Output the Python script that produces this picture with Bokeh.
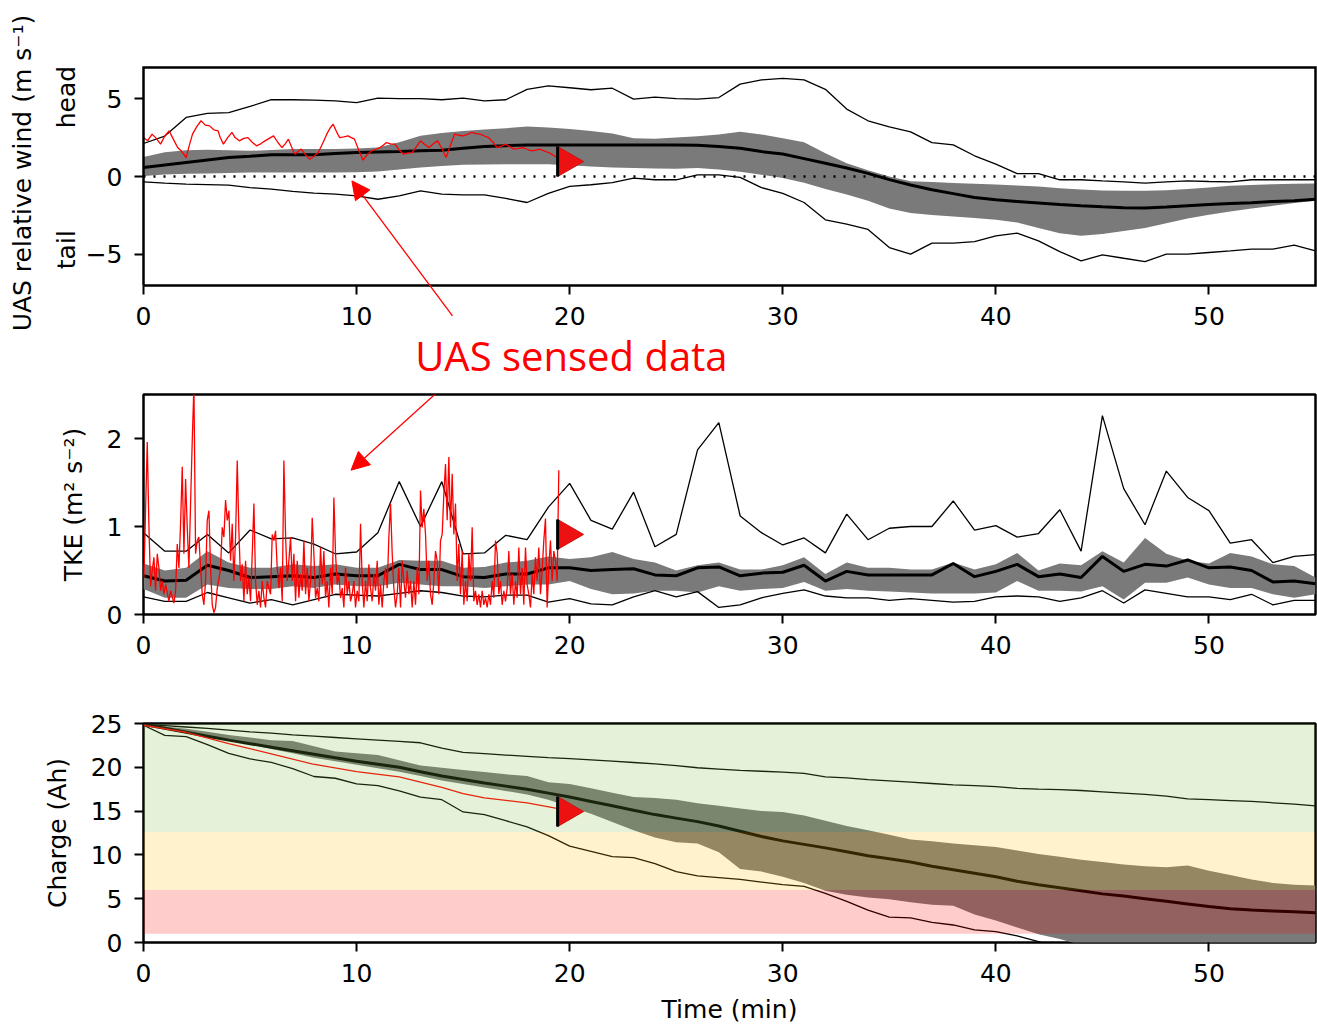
import numpy as np
from bokeh.plotting import figure
from bokeh.layouts import column
from bokeh.models import Label, Arrow, NormalHead, Range1d, FixedTicker
from bokeh.embed import file_html
from bokeh.resources import INLINE

# ---------------- data ----------------
minutes = list(range(56))

# Panel 1: UAS relative wind (m/s)
wind_max = [2.12, 2.6, 3.79, 4.05, 4.1, 4.5, 4.93, 4.93, 4.9, 4.86, 4.75, 5.03, 5.0, 5.0, 4.93, 5.03,
            4.86, 4.93, 5.6, 5.82, 5.7, 5.57, 5.67, 4.97, 5.1, 5.0, 4.97, 5.07, 5.93, 6.2, 6.3, 6.2,
            5.6, 4.33, 3.58, 3.19, 2.87, 2.18, 2.03, 1.33, 0.79, 0.19, 0.19, -0.21, -0.21, -0.28,
            -0.34, -0.43, -0.34, -0.28, -0.32, -0.34, -0.21, -0.21, -0.21, -0.21]
wind_min = [-0.34, -0.43, -0.49, -0.52, -0.56, -0.71, -0.81, -0.96, -1.07, -1.13, -1.24, -1.46,
            -1.24, -0.92, -1.13, -1.18, -1.18, -1.41, -1.67, -1.09, -0.64, -0.53, -0.39, -0.11,
            -0.21, -0.21, 0.1, 0.1, -0.06, -0.71, -1.09, -1.67, -2.78, -3.06, -3.4, -4.56, -4.99,
            -4.28, -4.28, -4.18, -3.81, -3.64, -4.13, -4.82, -5.42, -5.03, -5.25, -5.46, -4.99,
            -4.99, -4.88, -4.78, -4.67, -4.67, -4.41, -4.78]
wind_med = [0.58, 0.74, 0.9, 1.06, 1.22, 1.3, 1.39, 1.39, 1.4, 1.47, 1.54, 1.57, 1.6, 1.65, 1.69,
            1.81, 1.93, 1.98, 2.03, 2.03, 2.03, 2.03, 2.03, 2.03, 2.03, 2.03, 2.0, 1.93, 1.82, 1.6,
            1.45, 1.15, 0.85, 0.55, 0.2, -0.2, -0.55, -0.85, -1.1, -1.35, -1.5, -1.6, -1.7, -1.8,
            -1.88, -1.95, -2.0, -2.03, -1.96, -1.88, -1.8, -1.73, -1.68, -1.6, -1.55, -1.46]
wind_q75 = [1.26, 1.55, 1.68, 1.71, 1.68, 1.65, 1.7, 1.76, 1.76, 1.76, 1.8, 1.86, 2.2, 2.61, 2.8,
            2.93, 3.02, 3.1, 3.21, 3.15, 3.05, 2.93, 2.76, 2.46, 2.42, 2.5, 2.58, 2.7, 2.87, 2.7,
            2.45, 2.2, 1.5, 0.85, 0.4, 0.0, -0.3, -0.35, -0.42, -0.47, -0.52, -0.57, -0.65, -0.75,
            -0.83, -0.9, -0.92, -0.92, -0.88, -0.8, -0.7, -0.6, -0.54, -0.5, -0.47, -0.45]
wind_q25 = [0.04, 0.13, 0.17, 0.19, 0.22, 0.26, 0.26, 0.26, 0.26, 0.26, 0.28, 0.32, 0.45, 0.58,
            0.68, 0.75, 0.77, 0.79, 0.79, 0.79, 0.72, 0.64, 0.58, 0.54, 0.52, 0.49, 0.55, 0.45,
            0.3, 0.12, -0.1, -0.4, -0.8, -1.15, -1.55, -2.05, -2.35, -2.47, -2.57, -2.67, -2.78,
            -2.95, -3.3, -3.65, -3.8, -3.7, -3.5, -3.3, -3.0, -2.7, -2.45, -2.25, -2.05, -1.88,
            -1.7, -1.56]
wind_uas_t = [0, 0.2, 0.4, 0.6, 0.8, 1.0, 1.2, 1.4, 1.6, 1.8, 2.0, 2.15, 2.3, 2.5, 2.7, 2.9,
              3.1, 3.3, 3.5, 3.6, 3.75, 3.95, 4.15, 4.3, 4.5, 4.7, 4.9, 5.1, 5.3, 5.5, 5.7, 5.9,
              6.1, 6.3, 6.5, 6.65, 6.8, 6.95, 7.1, 7.25, 7.4, 7.6, 7.8, 8.0, 8.2, 8.4, 8.6, 8.75,
              8.9, 9.05, 9.2, 9.4, 9.6, 9.75, 9.9, 10.1, 10.3, 10.5, 10.7, 10.9, 11.1, 11.25,
              11.4, 11.6, 11.8, 12.0, 12.2, 12.4, 12.6, 12.8, 13.0, 13.2, 13.4, 13.6, 13.8, 14.0,
              14.2, 14.4, 14.6, 14.8, 15.0, 15.2, 15.4, 15.6, 15.8, 16.0, 16.2, 16.4, 16.6, 16.8,
              17.0, 17.2, 17.4, 17.6, 17.8, 18.0, 18.2, 18.4, 18.6, 18.8, 19.0, 19.2, 19.4]
wind_uas = [2.5, 2.3, 2.72, 2.45, 2.08, 2.6, 2.93, 2.4, 1.86, 1.6, 1.22, 2.0, 2.72, 3.2, 3.58,
            3.3, 3.25, 3.0, 2.93, 2.5, 2.08, 2.5, 2.83, 2.5, 2.29, 2.45, 2.5, 2.2, 1.97, 2.1,
            2.29, 2.45, 2.61, 2.2, 1.86, 2.1, 2.4, 1.9, 1.43, 1.6, 1.76, 1.4, 1.11, 1.3, 1.54,
            2.1, 2.72, 3.1, 3.36, 2.9, 2.5, 2.55, 2.61, 2.5, 2.4, 1.7, 1.05, 1.4, 1.65, 1.75, 1.86,
            2.0, 2.18, 2.1, 2.08, 1.7, 1.43, 1.5, 1.54, 1.9, 2.29, 2.05, 1.86, 2.1, 2.29, 1.8,
            1.22, 2.0, 2.72, 2.65, 2.61, 2.7, 2.83, 2.75, 2.72, 2.6, 2.5, 2.2, 1.86, 1.95, 2.08,
            1.9, 1.76, 1.8, 1.86, 1.75, 1.65, 1.7, 1.76, 1.65, 1.54, 1.4, 1.22]

# Panel 2: TKE (m2/s2)
tke_max = [0.93, 0.72, 0.72, 0.91, 0.70, 0.96, 0.86, 0.87, 0.80, 0.69, 0.71, 0.93, 1.51, 1.0, 1.51,
           0.69, 0.70, 0.90, 0.85, 1.22, 1.49, 1.07, 0.97, 1.39, 0.77, 0.91, 1.87, 2.18, 1.12, 0.93,
           0.79, 0.87, 0.70, 1.14, 0.85, 0.98, 1.0, 1.0, 1.29, 0.96, 1.01, 0.88, 0.92, 1.19, 0.72,
           2.26, 1.43, 1.02, 1.63, 1.33, 1.18, 0.81, 0.85, 0.59, 0.66, 0.68]
tke_min = [0.2, 0.15, 0.15, 0.25, 0.19, 0.13, 0.17, 0.11, 0.17, 0.23, 0.22, 0.21, 0.24, 0.27, 0.25,
           0.21, 0.2, 0.22, 0.22, 0.14, 0.18, 0.12, 0.11, 0.2, 0.27, 0.2, 0.26, 0.08, 0.11, 0.19,
           0.24, 0.28, 0.21, 0.19, 0.19, 0.16, 0.18, 0.16, 0.14, 0.15, 0.2, 0.21, 0.2, 0.15, 0.19,
           0.27, 0.13, 0.28, 0.24, 0.2, 0.2, 0.17, 0.23, 0.11, 0.16, 0.16]
tke_med = [0.44, 0.38, 0.39, 0.56, 0.5, 0.42, 0.43, 0.44, 0.42, 0.46, 0.44, 0.44, 0.57, 0.51, 0.51,
           0.43, 0.42, 0.46, 0.46, 0.53, 0.53, 0.5, 0.51, 0.52, 0.45, 0.44, 0.53, 0.54, 0.44, 0.47,
           0.48, 0.56, 0.38, 0.49, 0.45, 0.45, 0.45, 0.45, 0.58, 0.43, 0.49, 0.57, 0.43, 0.46, 0.42,
           0.66, 0.49, 0.57, 0.55, 0.62, 0.53, 0.54, 0.5, 0.37, 0.38, 0.35]
tke_q75 = [0.58, 0.5, 0.53, 0.72, 0.59, 0.53, 0.53, 0.57, 0.55, 0.57, 0.53, 0.53, 0.62, 0.61, 0.61,
           0.53, 0.54, 0.59, 0.61, 0.66, 0.63, 0.65, 0.71, 0.63, 0.59, 0.5, 0.56, 0.59, 0.51, 0.51,
           0.56, 0.65, 0.46, 0.59, 0.53, 0.53, 0.51, 0.51, 0.59, 0.51, 0.57, 0.7, 0.5, 0.58, 0.56,
           0.72, 0.59, 0.87, 0.69, 0.61, 0.58, 0.7, 0.66, 0.57, 0.55, 0.42]
tke_q25 = [0.29, 0.19, 0.19, 0.34, 0.3, 0.29, 0.29, 0.32, 0.3, 0.34, 0.32, 0.32, 0.36, 0.34, 0.32,
           0.32, 0.3, 0.32, 0.34, 0.34, 0.38, 0.29, 0.23, 0.24, 0.27, 0.27, 0.25, 0.32, 0.27, 0.29,
           0.3, 0.37, 0.27, 0.29, 0.27, 0.26, 0.25, 0.24, 0.24, 0.24, 0.25, 0.38, 0.27, 0.27, 0.26,
           0.32, 0.17, 0.36, 0.36, 0.42, 0.34, 0.3, 0.3, 0.23, 0.19, 0.23]
tke_uas = [0.42, 1.2, 1.96, 1.0, 0.32, 0.5, 0.65, 0.27, 0.69, 0.53,
           0.27, 0.38, 0.23, 0.34, 0.25, 0.15, 0.27, 0.2, 0.13, 0.27,
           0.80, 0.53, 1.03, 1.68, 0.69, 1.54, 0.99, 0.53, 1.26, 1.98,
           2.6, 0.69, 0.84, 0.88, 0.53, 0.23, 0.11, 0.38, 1.07, 1.18,
           0.53, 0.11, 0.02, 0.08, 0.30, 0.4, 0.53, 0.99, 0.88, 1.30,
           1.07, 1.18, 0.61, 1.03, 0.38, 0.88, 1.75, 0.95, 0.38, 0.57,
           0.15, 0.61, 0.23, 0.42, 0.15, 0.69, 1.26, 0.38, 0.11, 0.27,
           0.08, 0.38, 0.19, 0.08, 0.38, 0.30, 0.23, 0.91, 0.84, 0.95,
           0.53, 0.30, 0.53, 0.15, 1.75, 0.91, 0.38, 0.61, 0.88, 0.38,
           0.69, 0.15, 0.61, 0.19, 0.46, 0.27, 0.84, 0.23, 0.53, 0.15,
           0.38, 1.10, 0.69, 0.19, 0.30, 0.15, 0.76, 0.34, 0.72, 0.19,
           0.38, 0.08, 0.53, 0.23, 1.33, 0.69, 0.34, 0.46, 0.19, 0.30,
           0.08, 0.53, 0.23, 0.38, 0.15,
           0.23, 0.38, 0.08, 0.27, 0.15, 1.03, 0.38, 0.08, 0.38, 0.15,
           0.57, 0.30, 0.15, 0.46, 0.27, 0.61, 0.11, 0.34, 0.08, 0.38,
           0.53, 0.30, 0.88, 1.26, 0.69, 0.30, 0.08, 0.23, 0.53, 0.08,
           0.61, 0.38, 0.19, 0.50, 0.23, 0.38, 0.08, 0.38, 0.11, 0.53,
           0.23, 1.41, 0.99, 1.20, 0.91, 0.38, 0.61, 0.23, 0.11, 0.38,
           0.72, 0.61, 0.23, 0.84, 0.91, 1.37, 1.71, 1.07, 1.79, 0.99,
           1.60, 0.91, 1.26, 0.38, 0.80, 0.23, 0.72, 0.11, 0.38, 0.15,
           0.69, 0.38, 0.99, 0.15, 0.27, 0.11, 0.23, 0.08, 0.27, 0.11,
           0.19, 0.08, 0.23, 0.11, 0.38, 0.19, 0.84, 0.69, 0.23, 0.38,
           0.11, 0.27, 0.15, 0.30, 0.72, 0.23, 0.46, 0.11, 0.38, 0.19,
           0.76, 0.23, 0.53, 0.11, 0.76, 0.34, 0.23, 0.08, 0.46, 0.23,
           0.65, 0.38, 0.76, 0.23, 0.50, 0.84, 1.09, 0.08, 0.53, 0.84,
           0.38, 0.72, 0.61, 0.38, 1.64]
tke_uas_t = list(np.round(np.linspace(0.02, 19.49, len(tke_uas)), 3))  # sample times (min)

# Panel 3: battery charge (Ah)
chg_max = [24.9, 24.75, 24.6, 24.45, 24.25, 24.05, 23.9, 23.7, 23.55, 23.4, 23.25, 23.1, 22.95,
           22.8, 22.2, 21.7, 21.55, 21.4, 21.25, 21.1, 21.0, 20.85, 20.7, 20.55, 20.4, 20.2, 19.95,
           19.8, 19.65, 19.55, 19.45, 19.3, 18.9, 18.8, 18.6, 18.45, 18.3, 18.15, 18.0, 17.9, 17.8,
           17.6, 17.5, 17.45, 17.35, 17.2, 17.05, 16.9, 16.7, 16.4, 16.3, 16.2, 16.1, 15.95, 15.8,
           15.6]
chg_min = [24.8, 23.65, 23.5, 22.6, 21.6, 20.95, 20.55, 19.85, 18.95, 18.75, 18.1, 17.9, 17.3,
           16.6, 16.3, 14.9, 14.6, 13.9, 13.2, 12.2, 11.0, 10.4, 9.8, 9.7, 9.0, 8.1, 7.6, 7.4, 7.2,
           6.9, 6.6, 6.4, 5.6, 4.7, 3.7, 2.9, 2.8, 2.3, 2.0, 1.45, 1.25, 0.75, 0.1, -0.6, -1.3,
           -2.0, -2.7, -3.4, -4.0, -4.6, -5.2, -5.8, -6.3, -6.8, -7.3, -7.8]
chg_med = [24.9, 24.45, 24.0, 23.55, 23.1, 22.7, 22.3, 21.9, 21.5, 21.1, 20.7, 20.35, 20.0, 19.5,
           19.0, 18.6, 18.2, 17.85, 17.5, 17.05, 16.6, 16.1, 15.6, 15.1, 14.6, 14.2, 13.8, 13.3,
           12.7, 12.1, 11.6, 11.2, 10.8, 10.35, 9.9, 9.55, 9.2, 8.7, 8.3, 7.9, 7.5, 7.0, 6.6, 6.25,
           5.9, 5.55, 5.3, 5.0, 4.7, 4.4, 4.1, 3.85, 3.7, 3.6, 3.5, 3.4]
chg_q75 = [24.9, 24.65, 24.4, 24.05, 23.7, 23.4, 23.1, 23.0, 22.4, 21.8, 21.6, 21.4, 20.8, 20.2,
           19.95, 19.7, 19.45, 19.2, 19.0, 18.3, 18.1, 17.6, 17.1, 16.6, 16.5, 16.3, 15.9, 15.6,
           15.3, 15.0, 14.9, 14.5, 13.9, 13.3, 12.8, 12.3, 11.75, 11.55, 11.3, 11.1, 10.9, 10.5,
           10.1, 9.8, 9.45, 9.2, 8.9, 8.7, 8.6, 8.8, 8.2, 7.7, 7.2, 6.8, 6.6, 6.5]
chg_q25 = [24.8, 24.35, 23.9, 23.5, 23.1, 22.6, 22.1, 21.6, 21.1, 20.7, 20.3, 19.9, 19.5, 19.0,
           18.5, 18.1, 17.7, 17.3, 16.9, 16.3, 15.5, 14.7, 13.75, 12.8, 12.0, 11.45, 11.3, 10.3,
           8.4, 8.1, 7.5, 6.8, 5.9, 5.45, 5.15, 4.95, 4.6, 4.3, 4.2, 3.2, 2.5, 1.7, 0.95, 0.4,
           -0.3, -1.0, -1.7, -2.4, -3.0, -3.6, -4.2, -4.8, -5.3, -5.8, -6.3, -6.8]
chg_uas_t = [0, 2, 4, 5.9, 7.9, 10, 12, 13, 14, 15, 16, 18, 19.4]
chg_uas = [24.8, 24.0, 22.7, 21.6, 20.4, 19.5, 18.9, 18.3, 17.7, 17.0, 16.5, 15.95, 15.3]

# charge zones (Ah): bottom, top
zone_bottom = [12.6, 6.0, 1.0]
zone_top = [25.0, 12.6, 6.0]
zone_color = ["#7fbf3f", "#ffbf00", "#ff0000"]

# current-time marker positions (min, value)
now_marker_t = 19.84
now_marker_wind = 0.96
now_marker_tke = 0.91
now_marker_chg = 14.95

x_ticks = [0, 10, 20, 30, 40, 50]
X_LIM = (0, 55)
WIND_LIM = (-7, 7)
TKE_LIM = (0, 2.5)
CHG_LIM = (0, 25)

# ---------------- styling helpers ----------------
FONT = "DejaVu Sans"
FS = "25px"
BAND = "#7a7a7a"
FIG_W = 1317
FRAME_W = 1172
BORDER_L = 143
BORDER_R = FIG_W - BORDER_L - FRAME_W
MARKER_SIZE = 30


def style_axis(ax):
    ax.axis_line_color = None
    ax.major_tick_line_color = "black"
    ax.major_tick_line_width = 2
    ax.major_tick_out = 9
    ax.major_tick_in = 0
    ax.minor_tick_line_color = None
    ax.major_label_text_font = FONT
    ax.major_label_text_font_size = FS
    ax.major_label_text_color = "black"
    ax.major_label_standoff = 12
    ax.axis_label_text_font = FONT
    ax.axis_label_text_font_size = FS
    ax.axis_label_text_font_style = "normal"
    ax.axis_label_text_color = "black"


def base_fig(x_range, y_range, fw, fh, left, right, top, bottom, yticks):
    p = figure(frame_width=fw, frame_height=fh, x_range=x_range, y_range=y_range,
               output_backend="svg", toolbar_location=None, min_border_left=left,
               min_border_right=right, min_border_top=top, min_border_bottom=bottom)
    p.frame_align = False
    p.xgrid.visible = False
    p.ygrid.visible = False
    p.background_fill_color = "white"
    p.border_fill_color = "white"
    p.xaxis.ticker = FixedTicker(ticks=x_ticks)
    p.yaxis.ticker = FixedTicker(ticks=yticks)
    style_axis(p.xaxis[0])
    style_axis(p.yaxis[0])
    return p


def add_stats(p, lo, hi, mn, mx, med):
    p.varea(x=minutes, y1=lo, y2=hi, fill_color=BAND, fill_alpha=1.0)
    p.line(minutes, mx, line_color="black", line_width=1.3)
    p.line(minutes, mn, line_color="black", line_width=1.3)
    p.line(minutes, med, line_color="black", line_width=3)


def add_marker(p, y, frame_h, y_span):
    half = (MARKER_SIZE / 2) * y_span / frame_h
    base_dx = 0.289 * MARKER_SIZE * (X_LIM[1] - X_LIM[0]) / FRAME_W
    p.scatter([now_marker_t], [y], marker="triangle", size=MARKER_SIZE, angle=-np.pi / 2,
              fill_color="#ee1111", line_color="#cc1111", line_width=1)
    p.segment(x0=[now_marker_t - base_dx], y0=[y - half], x1=[now_marker_t - base_dx],
              y1=[y + half], line_color="black", line_width=3)


def red_arrow(x0, y0, x1, y1):
    return Arrow(end=NormalHead(size=18, fill_color="red", line_color="red", line_width=1),
                 x_start=x0, y_start=y0, x_end=x1, y_end=y1, line_color="red", line_width=1.3)


# ---------------- panel 1 ----------------
# This panel's plotting area covers its whole figure, so that the call-out text and the
# arrow below the box can be drawn; the box and both axes sit at the panel's true limits.
H1_VIS = 218      # visible box height (px)
TOP1 = 67         # px above the box
H1_FIG = 386      # whole figure height (px)
kx = FRAME_W / (X_LIM[1] - X_LIM[0])          # px per minute
ky1 = H1_VIS / (WIND_LIM[1] - WIND_LIM[0])    # px per m/s
x1_range = Range1d(X_LIM[0] - BORDER_L / kx, X_LIM[1] + BORDER_R / kx)
y1_hi = WIND_LIM[1] + TOP1 / ky1
y1_range = Range1d(y1_hi - H1_FIG / ky1, y1_hi)
p1 = base_fig(x1_range, y1_range, FIG_W, H1_FIG, 0, 0, 0, 0, [-5, 0, 5])
p1.outline_line_color = None
p1.xaxis.fixed_location = WIND_LIM[0]
p1.yaxis.fixed_location = X_LIM[0]
p1.yaxis.major_label_overrides = {-5: "\u22125"}

add_stats(p1, wind_q25, wind_q75, wind_min, wind_max, wind_med)
p1.line(list(X_LIM), [0, 0], line_color="black", line_width=2.5, line_dash="2 8")
p1.line(wind_uas_t, wind_uas, line_color="red", line_width=1.3)
add_marker(p1, now_marker_wind, H1_VIS, WIND_LIM[1] - WIND_LIM[0])
p1.multi_line(xs=[[X_LIM[0], X_LIM[0], X_LIM[1], X_LIM[1], X_LIM[0]]],
              ys=[[WIND_LIM[0], WIND_LIM[1], WIND_LIM[1], WIND_LIM[0], WIND_LIM[0]]],
              line_color="black", line_width=2.5, line_join="miter")

p1.add_layout(Label(x=X_LIM[0] - 121 / kx, y=0.22, text="UAS relative wind (m s\u207b\u00b9)",
                    angle=np.pi / 2, text_align="center", text_baseline="middle",
                    text_font=FONT, text_font_size=FS, text_color="black"))
for txt, yy in (("head", 5.1), ("tail", -4.7)):
    p1.add_layout(Label(x=X_LIM[0] - 77 / kx, y=yy, text=txt, angle=np.pi / 2,
                        text_align="center", text_baseline="middle", text_font=FONT,
                        text_font_size=FS, text_color="black"))
p1.add_layout(Label(x=20.08, y=-11.5, text="UAS sensed data", text_align="center",
                    text_baseline="middle", text_font="Open Sans",
                    text_font_size="40px", text_color="red"))
p1.add_layout(red_arrow(14.5, -8.95, 9.78, -0.28))

# ---------------- panel 2 ----------------
H2 = 220
p2 = base_fig(Range1d(*X_LIM), Range1d(*TKE_LIM), FRAME_W, H2, BORDER_L, BORDER_R, 8, 86,
              [0, 1, 2])
p2.outline_line_color = "black"
p2.outline_line_width = 2.5
p2.yaxis.axis_label = "TKE (m\u00b2 s\u207b\u00b2)"
p2.yaxis.axis_label_standoff = 16
add_stats(p2, tke_q25, tke_q75, tke_min, tke_max, tke_med)
p2.line(tke_uas_t, tke_uas, line_color="red", line_width=1.3)
add_marker(p2, now_marker_tke, H2, TKE_LIM[1] - TKE_LIM[0])
p2.add_layout(red_arrow(13.94, 2.56, 9.74, 1.64))

# ---------------- panel 3 ----------------
H3 = 219
p3 = base_fig(Range1d(*X_LIM), Range1d(*CHG_LIM), FRAME_W, H3, BORDER_L, BORDER_R, 23, 89,
              [0, 5, 10, 15, 20, 25])
p3.outline_line_color = "black"
p3.outline_line_width = 2.5
p3.yaxis.axis_label = "Charge (Ah)"
p3.yaxis.axis_label_standoff = 16
p3.xaxis.axis_label = "Time (min)"
p3.xaxis.axis_label_standoff = 10
add_stats(p3, chg_q25, chg_q75, chg_min, chg_max, chg_med)
p3.line(chg_uas_t, chg_uas, line_color="red", line_width=1.3)
p3.quad(left=X_LIM[0], right=X_LIM[1], bottom=zone_bottom, top=zone_top,
        fill_color=zone_color, fill_alpha=0.2, line_color=None)
add_marker(p3, now_marker_chg, H3, CHG_LIM[1] - CHG_LIM[0])

layout = column(p1, p2, p3, spacing=0)
open("out.html", "w").write(file_html(layout, INLINE))
